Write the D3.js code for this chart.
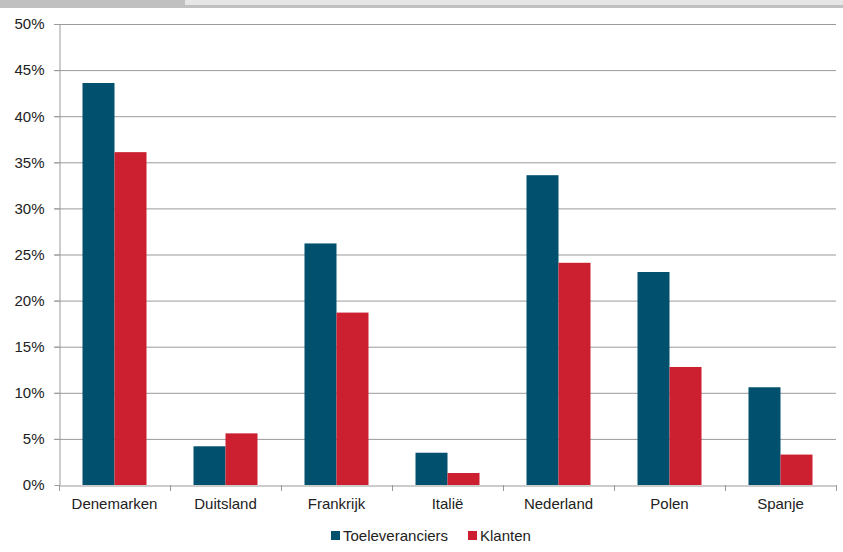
<!DOCTYPE html>
<html><head><meta charset="utf-8">
<script src="https://cdn.jsdelivr.net/npm/d3@7"></script>
<style>
body{margin:0;background:#fff;}
svg{display:block;font-family:"Liberation Sans Narrow","Arial Narrow","Liberation Sans",sans-serif;}
</style></head>
<body><svg id="c" width="843" height="552"></svg>
<script>
const categories = ["Denemarken","Duitsland","Frankrijk","Italië","Nederland","Polen","Spanje"];
const seriesNames = ["Toeleveranciers","Klanten"];
const toeleveranciers = [43.6, 4.2, 26.2, 3.5, 33.6, 23.1, 10.6];
const klanten = [36.1, 5.6, 18.7, 1.3, 24.1, 12.8, 3.3];
const yTicks = [0,5,10,15,20,25,30,35,40,45,50];
const colors = ["#00506e","#cc1f30"];

(function(){
const svg = d3.select("#c");
// top banner remnants
svg.append("rect").attr("x",0).attr("y",0).attr("width",843).attr("height",8).attr("fill","#c0c0c0");
svg.append("rect").attr("x",185).attr("y",0).attr("width",658).attr("height",5).attr("fill","#e6e6e6");

const pl=59, pr=836, pt=24, pb=485;
const x0 = d3.scaleBand().domain(categories).range([pl,pr]).paddingInner(0).paddingOuter(0);
const x1 = d3.scaleBand().domain(seriesNames).range([23.5, x0.bandwidth()-23.5]);
const y = d3.scaleLinear().domain([0,50]).range([pb,pt]);

// gridlines
svg.append("g").selectAll("line").data(yTicks.filter(d=>d>0)).join("line")
  .attr("x1",pl-5).attr("x2",pr).attr("y1",d=>y(d)+0.5).attr("y2",d=>y(d)+0.5)
  .attr("stroke","#9a9a9a").attr("stroke-width",1);

// bars
const data = categories.map((c,i)=>({c, vals:[toeleveranciers[i], klanten[i]]}));
const g = svg.append("g").selectAll("g").data(data).join("g").attr("transform",d=>`translate(${x0(d.c)},0)`);
g.selectAll("rect").data(d=>d.vals.map((v,j)=>({v,s:seriesNames[j],j}))).join("rect")
  .attr("x",d=>x1(d.s)).attr("width",x1.bandwidth())
  .attr("y",d=>y(d.v)).attr("height",d=>y(0)-y(d.v)).attr("fill",d=>colors[d.j]);

// y axis
const ya = svg.append("g").attr("transform",`translate(${pl+0.5},0)`)
  .call(d3.axisLeft(y).tickValues(yTicks).tickFormat(d=>d+"%").tickSize(5).tickSizeOuter(0));
ya.select(".domain").attr("stroke","#9a9a9a");
ya.selectAll(".tick line").attr("stroke","#9a9a9a");
ya.selectAll(".tick text").attr("font-size",15).attr("fill","#222").attr("x",-15).attr("font-family","Liberation Sans Narrow, Arial Narrow, sans-serif");

// x axis
const xa = svg.append("g").attr("transform",`translate(0,${pb+0.5})`)
  .call(d3.axisBottom(x0).tickSize(0).tickSizeOuter(0));
xa.select(".domain").attr("stroke","#9a9a9a");
xa.selectAll(".tick text").attr("font-size",15).attr("fill","#222").attr("dy","1.35em").attr("font-family","Liberation Sans Narrow, Arial Narrow, sans-serif");
// category separator ticks
svg.append("g").selectAll("line").data(categories.concat(["__end"])).join("line")
  .attr("x1",(d,i)=>Math.round(pl + i*x0.bandwidth())+0.5).attr("x2",(d,i)=>Math.round(pl + i*x0.bandwidth())+0.5)
  .attr("y1",pb).attr("y2",pb+6).attr("stroke","#9a9a9a");

// legend
const legX=[331,468];
const lg = svg.append("g").selectAll("g").data(seriesNames).join("g").attr("transform",(d,i)=>`translate(${legX[i]},531)`);
lg.append("rect").attr("width",9).attr("height",9).attr("fill",(d,i)=>colors[i]);
lg.append("text").attr("x",12).attr("y",10).attr("font-size",15).attr("fill","#222").text(d=>d);
})();
</script></body></html>
